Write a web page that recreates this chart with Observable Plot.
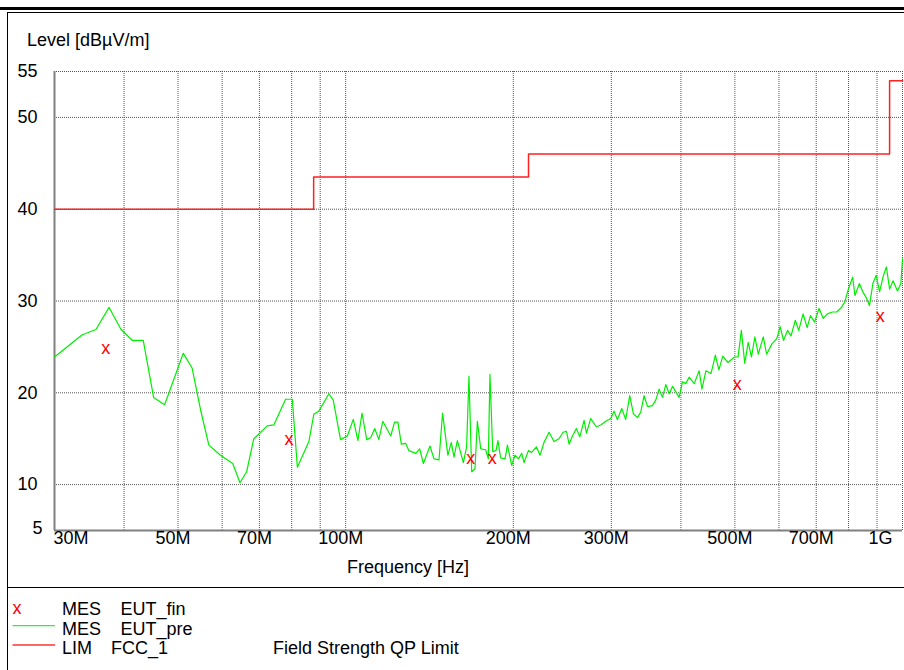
<!DOCTYPE html>
<html>
<head>
<meta charset="utf-8">
<script src="https://cdn.jsdelivr.net/npm/d3@7"></script>
<script src="https://cdn.jsdelivr.net/npm/@observablehq/plot@0.6"></script>
<style>
  html, body { margin:0; padding:0; background:#fff; }
  body { width:904px; height:670px; position:relative; overflow:hidden; font-family:'Liberation Sans', Arial, sans-serif; color:#000; }
  .abs { position:absolute; }
  .lbl { font-size:18px; line-height:18px; white-space:nowrap; }
</style>
</head>
<body>
<div id="chart" class="abs" style="left:0;top:0;"></div>

<div class="abs" style="left:0;top:7px;width:904px;height:3px;background:#000;"></div>
<div class="abs" style="left:7px;top:12px;width:897px;height:660px;border-left:1px solid #000;border-top:1px solid #000;box-sizing:border-box;"></div>
<div class="abs" style="left:7px;top:587px;width:897px;height:1px;background:#000;"></div>

<div class="abs lbl" style="left:27px;top:31px;">Level [dBµV/m]</div>
<div class="abs lbl" style="left:258px;top:558px;width:300px;text-align:center;">Frequency [Hz]</div>

<svg class="abs" style="left:0;top:587px;" width="904" height="83" font-family="'Liberation Sans', Arial, sans-serif" font-size="18">
  <text x="12.5" y="26.5" fill="#ff0000">x</text>
  <line x1="12.5" x2="55" y1="38.7" y2="38.7" stroke="#33ee33" stroke-width="1.3"/>
  <line x1="12.5" x2="55" y1="58" y2="58" stroke="#ff3333" stroke-width="1.3"/>
  <text x="62" y="28">MES</text><text x="120.5" y="28">EUT_fin</text>
  <text x="62" y="47.5">MES</text><text x="120.5" y="47.5">EUT_pre</text>
  <text x="62" y="66.5">LIM</text><text x="111" y="66.5">FCC_1</text>
  <text x="273" y="66.5">Field Strength QP Limit</text>
</svg>

<script>
// ---- data (frequency in MHz, level in dBµV/m) ----
const preFreq = [30.0,33.6,35.6,37.6,39.5,41.4,43.3,45.2,47.3,51.1,53.0,54.9,56.8,59.6,62.7,64.6,66.4,68.4,72.3,74.3,78.0,80.2,81.9,85.9,87.7,89.5,93.3,95.0,97.9,100.7,103.2,105.2,107.0,109.1,110.9,112.8,114.7,116.6,120.5,122.4,124.1,125.9,128.1,129.9,133.6,135.8,137.9,141.7,144.1,147.1,149.3,152.6,154.8,156.5,158.7,162.7,164.9,166.5,168.4,170.7,172.4,174.8,178.4,180.4,181.6,183.7,186.2,187.7,189.8,193.3,195.2,198.7,201.4,204.3,207.1,209.1,212.9,215.8,220.1,223.4,227.1,231.9,236.7,241.6,245.7,249.2,251.9,255.4,259.7,263.3,268.0,270.7,275.5,278.2,282.1,287.2,293.1,299.3,303.3,307.6,313.2,318.4,323.7,328.7,334.2,338.8,343.5,348.4,355.6,360.5,365.5,370.7,375.8,381.0,386.4,391.7,397.0,402.6,408.2,413.8,422.6,431.4,436.3,443.6,453.0,461.3,468.0,475.7,485.8,492.5,499.5,506.6,513.6,520.9,528.3,535.5,543.1,550.8,562.3,570.2,582.4,594.6,603.0,611.4,621.7,630.6,642.1,651.0,663.0,674.2,683.5,695.2,708.0,720.7,733.0,748.3,762.0,776.9,787.8,796.7,813.6,821.6,836.7,848.6,860.2,872.3,884.7,896.9,909.6,922.4,935.5,948.2,961.7,979.3,993.3,1000];
const preLevel = [23.9,26.3,26.9,29.3,26.9,25.7,25.7,19.5,18.7,24.3,22.7,18.1,14.3,13.2,12.3,10.2,11.4,15.0,16.4,16.5,19.3,19.3,11.9,14.7,17.7,18.0,19.9,19.2,14.9,15.3,17.1,14.8,17.8,14.9,15.1,16.1,14.9,16.9,15.3,16.8,16.8,14.4,14.5,13.7,13.4,13.9,12.3,14.2,12.8,12.7,17.8,13.2,14.6,13.0,14.8,12.4,14.1,21.8,11.4,11.7,16.9,13.9,13.8,12.8,22.0,13.6,13.7,14.8,12.9,12.8,14.3,12.1,13.2,12.8,13.4,12.4,13.7,13.5,14.1,13.2,14.6,15.7,14.7,15.0,15.7,15.8,14.4,15.3,16.1,15.2,17.0,15.6,17.2,16.8,16.3,16.5,16.9,17.2,18.0,17.1,18.3,17.1,19.7,17.7,17.3,17.9,19.7,18.5,18.6,19.2,20.4,19.5,20.9,19.9,20.7,20.1,19.5,21.2,21.0,21.7,21.0,22.4,20.4,22.4,22.1,24.1,22.5,24.0,23.3,23.6,23.9,23.9,26.8,23.2,25.5,23.9,26.1,24.2,26.1,24.2,25.3,25.9,27.2,25.7,26.8,26.2,27.9,26.8,28.6,27.1,28.4,27.7,29.2,28.1,28.6,28.8,28.8,29.3,29.9,31.0,32.6,30.6,31.9,31.0,30.4,29.5,31.9,32.8,31.0,32.6,33.7,31.3,32.2,31.1,31.9,34.6];

const finFreq  = [37.1, 79.1, 167.7, 183.4, 505.0, 912.0];
const finLevel = [24.9, 14.9, 12.9, 12.9, 20.9, 28.3];

const limFreq  = [30, 87.6, 213, 948, 1000];
const limLevel = [40, 43.5, 46, 54, 54];

const xTickValues = [30, 50, 70, 100, 200, 300, 500, 700, 1000];
const xTickLabels = ["30M","50M","70M","100M","200M","300M","500M","700M","1G"];
const xGrid = [40,50,60,70,80,90,100,200,300,400,500,600,700,800,900,1000];
const yTickValues = [55, 50, 40, 30, 20, 10, 5];
const yGrid = [10, 20, 30, 40, 50, 55];

// ---- tables ----
const pre = preFreq.map((f, i) => ({f, v: preLevel[i]}));
const fin = finFreq.map((f, i) => ({f, v: finLevel[i]}));
const lim = limFreq.map((f, i) => ({f, v: limLevel[i]}));
const xt = xTickValues.map((v, i) => ({v, t: xTickLabels[i]}));
const yt = yTickValues.map(v => ({v, t: String(v)}));

const n = xt.length;
const chart = Plot.plot({
  width: 904, height: 587,
  marginLeft: 54, marginRight: 2, marginTop: 71, marginBottom: 57,
  x: {type: "log", domain: [30, 1000], axis: null},
  y: {domain: [5, 55], axis: null},
  style: {fontFamily: "'Liberation Sans', Arial, sans-serif", fontSize: "18px", background: "transparent", color: "#000", overflow: "visible"},
  marks: [
    Plot.ruleX(xGrid, {stroke: "#555", strokeDasharray: "1,1", strokeWidth: 1}),
    Plot.ruleY(yGrid, {stroke: "#555", strokeDasharray: "1,1", strokeWidth: 1}),
    Plot.ruleX([30], {stroke: "#808080", strokeWidth: 2}),
    Plot.ruleY([5], {stroke: "#808080", strokeWidth: 2}),
    Plot.line(lim, {x: "f", y: "v", curve: "step-after", stroke: "#ff2020", strokeWidth: 1.5}),
    Plot.line(pre, {x: "f", y: "v", stroke: "#00ee00", strokeWidth: 1.2}),
    Plot.text(fin, {x: "f", y: "v", text: () => "x", fill: "#ff0000", fontSize: 18}),
    // y tick labels
    Plot.text(yt.slice(0, -1), {y: "v", text: "t", frameAnchor: "left", dx: -17, textAnchor: "end", fontSize: 18}),
    Plot.text(yt.slice(-1), {y: "v", text: "t", frameAnchor: "left", dx: -12, dy: -2, textAnchor: "end", fontSize: 18}),
    // x tick labels
    Plot.text(xt.slice(0, 1), {x: "v", text: "t", frameAnchor: "bottom", dy: 13, dx: -1, textAnchor: "start", fontSize: 18}),
    Plot.text(xt.slice(1, n - 1), {x: "v", text: "t", frameAnchor: "bottom", dy: 13, dx: -5, fontSize: 18}),
    Plot.text(xt.slice(n - 1), {x: "v", text: "t", frameAnchor: "bottom", dy: 13, dx: -10, textAnchor: "end", fontSize: 18})
  ]
});
document.getElementById("chart").appendChild(chart);
</script>
</body>
</html>
